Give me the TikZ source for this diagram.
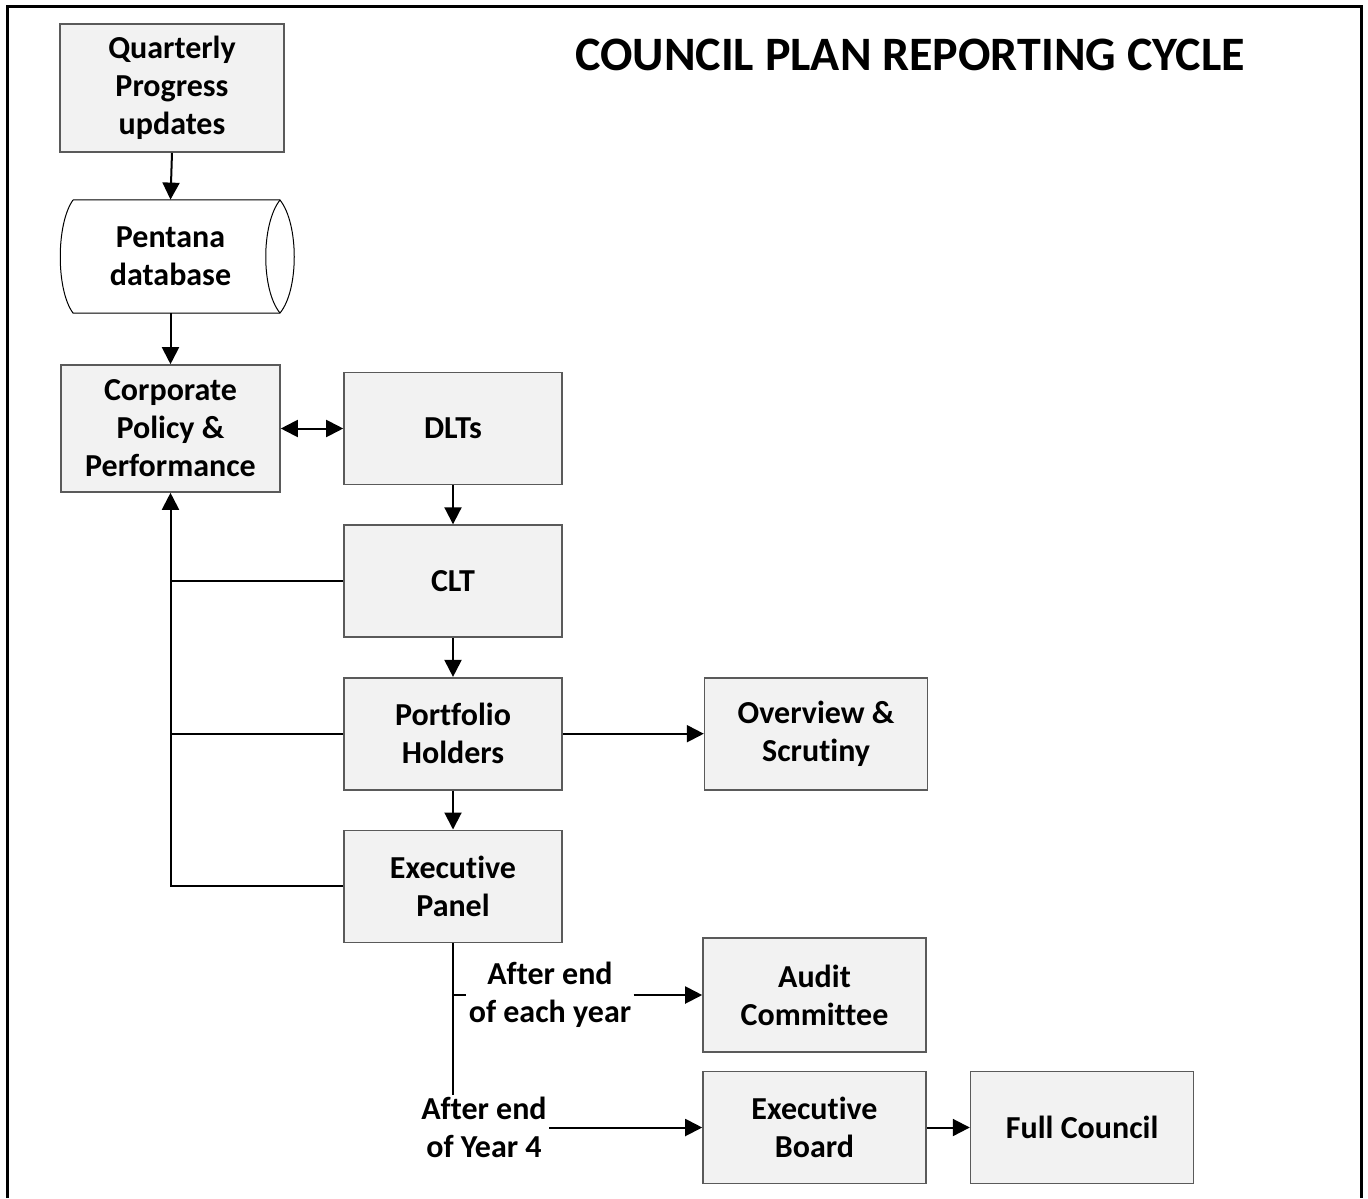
\documentclass[tikz,border=0pt]{standalone}
\usepackage{fontspec}
\setmainfont{Carlito}[Ligatures=NoCommon]
\usepackage{xcolor}
\definecolor{boxfill}{HTML}{F2F2F2}
\definecolor{boxline}{HTML}{5A5A5A}
\usetikzlibrary{positioning,arrows.meta}

\begin{document}
\begin{tikzpicture}[x=0.5pt,y=-0.5pt,font=\fontsize{16}{19}\selectfont\bfseries,
  bx/.style={draw=boxline,fill=boxfill,line width=0.8pt,minimum width=109pt,minimum height=56pt,align=center,inner sep=2pt},
  ln/.style={line width=1pt},
  arr/.style={ln,-{Triangle[length=8.5pt,width=8.5pt]}},
  dbl/.style={ln,{Triangle[length=8.5pt,width=8.5pt]}-{Triangle[length=8.5pt,width=8.5pt]}}]
  \useasboundingbox (0,0) rectangle (1368,1198);
  \draw[line width=1.5pt] (7,1198) -- (7,7) -- (1361,7) -- (1361,1198);
  \node[font=\fontsize{24}{29}\selectfont\bfseries] (title) at (910,55) {COUNCIL PLAN REPORTING CYCLE};
  % left column
  \node[bx,minimum width=112pt,minimum height=64pt] (qpu) at (172,88) {Quarterly\\Progress\\updates};
  \draw[fill=white,line width=0.5pt] (73,200) -- (280,200) .. controls (299,224) and (299,290) .. (280,313)
    -- (73,313) .. controls (56,290) and (56,224) .. (73,200);
  \draw[line width=0.5pt] (280,200) .. controls (261,224) and (261,290) .. (280,313);
  \node[minimum width=110pt,minimum height=56.5pt,align=center] (pdb) at (170.5,256.5) {Pentana\\database};
  \node[bx,minimum width=109.5pt,minimum height=63.5pt] (cpp) at (170.5,428.5) {Corporate\\Policy \&\\Performance};
  % middle column
  \node[bx] (dlt) at (453,428.5) {DLTs};
  \node[bx,below=19.5pt of dlt] (clt) {CLT};
  \node[bx,below=19.5pt of clt] (ph) {Portfolio\\Holders};
  \node[bx,below=19.5pt of ph] (ep) {Executive\\Panel};
  % right side
  \node[bx,minimum width=111.5pt,right=70.5pt of ph] (ovs) {Overview \&\\Scrutiny};
  \node[bx,minimum width=111.5pt,minimum height=57pt] (aud) at (814.5,995) {Audit\\Committee};
  \node[bx,minimum width=111.5pt] (eb) at (814.5,1127.5) {Executive\\Board};
  \node[bx,minimum width=111.5pt,right=21.5pt of eb] (fc) {Full Council};
  \node[align=center,inner sep=1pt] (yr) at (550,995) {After end\\of each year};
  \node[align=center,inner sep=1pt] (y4) at (484,1127.5) {After end\\of Year 4};
  % connectors
  \draw[arr] (qpu.south) -- (pdb.north);
  \draw[arr] (pdb.south) -- (cpp.north);
  \draw[dbl] (cpp) -- (dlt);
  \draw[arr] (dlt) -- (clt);
  \draw[arr] (clt) -- (ph);
  \draw[arr] (ph) -- (ep);
  \draw[arr] (ph) -- (ovs);
  \draw[arr] (ep.west) -| (cpp.south);
  \draw[ln] (clt.west) -- (clt.west -| cpp.south);
  \draw[ln] (ph.west) -- (ph.west -| cpp.south);
  \draw[ln] (ep.south) -- (ep.south |- y4.north);
  \draw[ln] (yr.west -| ep.south) -- (yr.west);
  \draw[arr] (yr.east) -- (aud);
  \draw[arr] (y4.east) -- (eb);
  \draw[arr] (eb) -- (fc);
\end{tikzpicture}
\end{document}
